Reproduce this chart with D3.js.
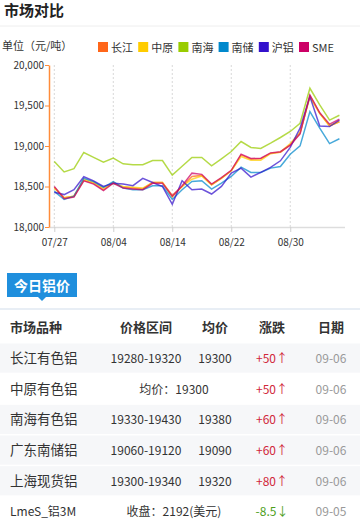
<!DOCTYPE html>
<meta charset="utf-8">
<script src="https://d3js.org/d3.v7.min.js"></script>
<style>
  body { margin: 0; background: #fff; }
  text { font-family: "Noto Sans CJK SC", "DejaVu Sans", sans-serif; }
</style>
<body>
<div id="my_dataviz"></div>
<script>
// chart data
var dates = ["07/27","07/28","07/31","08/01","08/02","08/03","08/04","08/07","08/08","08/09",
  "08/10","08/11","08/14","08/15","08/16","08/17","08/18","08/21","08/22","08/23",
  "08/24","08/25","08/28","08/29","08/30","08/31","09/01","09/04","09/05","09/06"];
var tickDates = ["07/27","08/04","08/14","08/22","08/30"];
var yTicks = [18000, 18500, 19000, 19500, 20000];

var seriesNames = ["长江","中原","南海","南储","沪铝","SME"];
var changjiang = [18490,18360,18380,18575,18540,18460,18550,18490,18480,18470,18550,18550,18390,
  18500,18624,18637,18522,18604,18694,18891,18838,18842,18912,18924,19014,19158,19622,19405,19250,19300];
var zhongyuan = [18480,18360,18380,18590,18550,18480,18540,18500,18490,18480,18550,18550,18370,
  18500,18590,18630,18522,18600,18694,18870,18825,18825,18905,18924,19030,19170,19600,19400,19250,19300];
var nanhai = [18810,18680,18720,18920,18860,18800,18850,18780,18770,18770,18820,18820,18640,
  18750,18858,18858,18756,18842,18932,19055,18982,18969,19035,19105,19179,19281,19713,19507,19320,19380];
var nanchu = [18440,18340,18380,18600,18560,18490,18560,18480,18460,18460,18510,18510,18340,
  18460,18563,18571,18468,18542,18624,18739,18674,18674,18727,18747,18899,19002,19425,19220,19030,19090];
var hulv = [18430,18400,18460,18620,18570,18500,18540,18530,18510,18600,18550,18500,18280,
  18571,18460,18468,18407,18501,18665,18727,18616,18674,18735,18817,18982,19220,19610,19248,19240,19320];
var sme = [18500,18350,18370,18570,18530,18450,18540,18480,18470,18460,18540,18540,18380,
  18510,18665,18650,18530,18610,18700,18900,18845,18850,18915,18930,19010,19150,19630,19410,19270,19330];
var seriesValues = [changjiang, zhongyuan, nanhai, nanchu, hulv, sme];
var seriesColors = ["#ff6619","#ffcc00","#99cc00","#0088cc","#3311cc","#cc0066"];

// table data
var tableHeads = ["市场品种","价格区间","均价","涨跌","日期"];
var markets = ["长江有色铝","中原有色铝","南海有色铝","广东南储铝","上海现货铝","LmeS_铝3M"];
var ranges = ["19280-19320","均价：19300","19330-19430","19060-19120","19300-19340","收盘：2192(美元)"];
var avgs = ["19300","","19380","19090","19320",""];
var changes = ["+50","+50","+60","+60","+80","-8.5"];
var days = ["09-06","09-06","09-06","09-06","09-06","09-05"];

var W = 360, H = 521;
var svg = d3.select("#my_dataviz")
  .append("svg")
    .attr("width", W)
    .attr("height", H);

// title
svg.append("text")
  .attr("x", 4).attr("y", 16)
  .attr("font-size", 15).attr("font-weight", "bold").attr("fill", "#222")
  .text("市场对比");
svg.append("line")
  .attr("x1", 0).attr("x2", W).attr("y1", 26).attr("y2", 26)
  .attr("stroke", "#eeeeee").attr("stroke-width", 1);

svg.append("text")
  .attr("x", 2).attr("y", 50)
  .attr("font-size", 11).attr("fill", "#333")
  .text("单位（元/吨）");

// legend
var legend = svg.selectAll(".legend")
  .data(seriesNames)
  .enter().append("g")
    .attr("transform", function(d, i) { return "translate(" + (98 + i * 40.2) + ",42)"; });
legend.append("rect")
  .attr("width", 10).attr("height", 10)
  .attr("fill", function(d, i) { return seriesColors[i]; });
legend.append("text")
  .attr("x", 13).attr("y", 9.5)
  .attr("font-size", 11).attr("fill", "#333")
  .text(function(d) { return d; });

// scales
var x = d3.scalePoint()
  .domain(dates)
  .range([54.3, 339.4]);
var y = d3.scaleLinear()
  .domain([18000, 20000])
  .range([227, 65]);

// dotted grid
svg.append("g")
  .selectAll("line")
  .data(tickDates)
  .enter().append("line")
    .attr("x1", function(d) { return x(d); })
    .attr("x2", function(d) { return x(d); })
    .attr("y1", 65).attr("y2", 227)
    .attr("stroke", "#d8d8d8").attr("stroke-dasharray", "2,2");

// x axis
var xAxis = svg.append("g")
  .attr("transform", "translate(0,227)")
  .call(d3.axisBottom(x).tickValues(tickDates).tickSize(5).tickSizeOuter(0));
xAxis.select(".domain").attr("d", "M49,0.5H345").attr("stroke", "#dddddd").attr("stroke-width", 1.5);
xAxis.selectAll(".tick line").attr("stroke", "#d0d0d0");
xAxis.selectAll(".tick text")
  .attr("font-family", "DejaVu Sans").attr("font-size", 10).attr("fill", "#333").attr("dy", "1.05em");

// y axis
var yAxis = svg.append("g")
  .attr("transform", "translate(49,0)")
  .call(d3.axisLeft(y).tickValues(yTicks).tickFormat(d3.format(",")).tickSize(4).tickSizeOuter(0));
yAxis.select(".domain").attr("stroke", "#ff8c3a").attr("stroke-width", 1.5);
yAxis.selectAll(".tick line").attr("stroke", "#ff8c3a");
yAxis.selectAll(".tick text")
  .attr("font-family", "DejaVu Sans").attr("font-size", 10).attr("fill", "#333").attr("x", -5);

// lines
var line = d3.line()
  .x(function(d, i) { return x(dates[i]); })
  .y(function(d) { return y(d); });
svg.append("g")
  .selectAll("path")
  .data(seriesValues)
  .enter().append("path")
    .attr("fill", "none")
    .attr("stroke", function(d, i) { return seriesColors[i]; })
    .attr("stroke-opacity", 0.72)
    .attr("stroke-width", 1.5)
    .attr("d", line);

// tab
svg.append("rect")
  .attr("x", 7).attr("y", 273).attr("width", 70).attr("height", 24)
  .attr("fill", "#1f8fdd");
svg.append("path")
  .attr("d", "M38,297L42,301L46,297Z")
  .attr("fill", "#1f8fdd");
svg.append("text")
  .attr("x", 42).attr("y", 291)
  .attr("text-anchor", "middle")
  .attr("font-size", 14).attr("font-weight", "bold").attr("fill", "#fff")
  .text("今日铝价");
svg.append("line")
  .attr("x1", 0).attr("x2", W).attr("y1", 309).attr("y2", 309)
  .attr("stroke", "#e8eef5").attr("stroke-width", 2);

// table header
var colX = [10, 146, 215, 272, 331];
var head = svg.append("g");
head.selectAll("text")
  .data(tableHeads)
  .enter().append("text")
    .attr("x", function(d, i) { return colX[i]; })
    .attr("y", 332)
    .attr("text-anchor", function(d, i) { return i == 0 ? "start" : "middle"; })
    .attr("font-size", 13).attr("font-weight", "bold").attr("fill", "#333")
    .text(function(d) { return d; });

// table rows
var rowY = d3.scaleBand()
  .domain(d3.range(markets.length))
  .range([343, 527]);
var grayRows = [0, 2, 3, 4];
var rows = svg.selectAll(".row")
  .data(markets)
  .enter().append("g")
    .attr("transform", function(d, i) { return "translate(0," + rowY(i) + ")"; });
rows.append("rect")
  .attr("x", 0).attr("y", 0.5).attr("width", W).attr("height", rowY.bandwidth() - 1.5)
  .attr("fill", function(d, i) { return grayRows.indexOf(i) >= 0 ? "#f6f7f9" : "#fff"; });
rows.append("text")
  .attr("x", 10).attr("y", 20)
  .attr("font-size", function(d, i) { return i == 5 ? 12 : 13.5; })
  .attr("font-family", function(d, i) { return i == 5 ? "DejaVu Sans Mono, Noto Sans CJK SC" : null; })
  .attr("fill", "#333")
  .text(function(d) { return d; });
rows.append("text")
  .attr("x", function(d, i) { return avgs[i] ? 146 : 174; })
  .attr("y", 20)
  .attr("text-anchor", "middle")
  .attr("font-size", 12).attr("fill", "#333")
  .text(function(d, i) { return ranges[i]; });
rows.append("text")
  .attr("x", 215).attr("y", 20)
  .attr("text-anchor", "middle")
  .attr("font-size", 12).attr("fill", "#333")
  .text(function(d, i) { return avgs[i]; });
rows.append("text")
  .attr("x", 272).attr("y", 20)
  .attr("text-anchor", "middle")
  .attr("font-size", 12)
  .attr("fill", function(d, i) { return changes[i][0] == "-" ? "#4d9e1a" : "#d1283a"; })
  .text(function(d, i) { return changes[i] + (changes[i][0] == "-" ? "↓" : "↑"); });
rows.append("text")
  .attr("x", 331).attr("y", 20)
  .attr("text-anchor", "middle")
  .attr("font-size", 12).attr("fill", "#999")
  .text(function(d, i) { return days[i]; });
</script>
</body>
